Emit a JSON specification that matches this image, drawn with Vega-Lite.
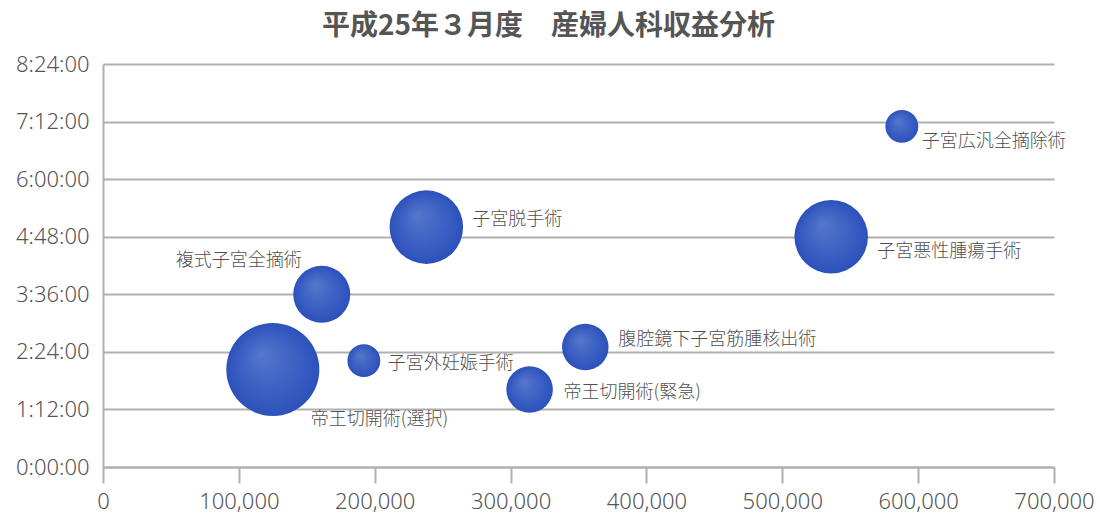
{
  "$schema": "https://vega.github.io/schema/vega-lite/v6.json",
  "autosize": {"type": "none"},
  "width": 951,
  "height": 403,
  "padding": {"left": 103, "top": 64, "right": 46, "bottom": 52},
  "background": "white",
  "title": {
    "text": "平成25年３月度　産婦人科収益分析",
    "font": "Noto Sans CJK JP",
    "fontSize": 28,
    "fontWeight": "bold",
    "color": "#555555",
    "anchor": "middle",
    "dx": -30,
    "baseline": "alphabetic",
    "offset": -10
  },
  "config": {"view": {"stroke": null}},
  "data": {
    "values": [
      {"name": "子宮広汎全摘除術", "revenue": 588000, "minutes": 426, "count": 2},
      {"name": "子宮悪性腫瘍手術", "revenue": 536000, "minutes": 288, "count": 10},
      {"name": "子宮脱手術", "revenue": 238000, "minutes": 300, "count": 10},
      {"name": "複式子宮全摘術", "revenue": 161000, "minutes": 216, "count": 6},
      {"name": "帝王切開術(選択)", "revenue": 125000, "minutes": 122, "count": 16},
      {"name": "子宮外妊娠手術", "revenue": 192000, "minutes": 133, "count": 2},
      {"name": "腹腔鏡下子宮筋腫核出術", "revenue": 355000, "minutes": 150, "count": 4},
      {"name": "帝王切開術(緊急)", "revenue": 314000, "minutes": 97, "count": 4}
    ]
  },
  "encoding": {
    "x": {
      "field": "revenue",
      "type": "quantitative",
      "scale": {"domain": [0, 700000], "nice": false, "zero": true},
      "axis": {
        "title": null,
        "values": [0, 100000, 200000, 300000, 400000, 500000, 600000, 700000],
        "format": ",d",
        "grid": false,
        "domainColor": "#b0b0b0",
        "domainWidth": 2,
        "tickColor": "#b0b0b0",
        "tickWidth": 2,
        "tickSize": 16,
        "labelFont": "Noto Sans",
        "labelFontSize": 22,
        "labelFontWeight": 300,
        "labelColor": "#555555",
        "labelPadding": 8,
        "labelFlush": false,
        "labelOverlap": false
      }
    },
    "y": {
      "field": "minutes",
      "type": "quantitative",
      "scale": {"domain": [0, 504], "nice": false, "zero": true},
      "axis": {
        "title": null,
        "values": [0, 72, 144, 216, 288, 360, 432, 504],
        "labelExpr": "floor(datum.value / 60) + ':' + (datum.value % 60 < 10 ? '0' : '') + (datum.value % 60) + ':00'",
        "grid": true,
        "gridColor": "#b0b0b0",
        "gridWidth": 2,
        "ticks": false,
        "domainColor": "#b0b0b0",
        "domainWidth": 2,
        "labelFont": "Noto Sans",
        "labelFontSize": 22,
        "labelFontWeight": 300,
        "labelColor": "#555555",
        "labelPadding": 14,
        "labelFlush": false,
        "labelOverlap": false
      }
    }
  },
  "layer": [
    {
      "mark": {
        "type": "circle",
        "opacity": 1,
        "fill": {
          "gradient": "radial",
          "x1": 0.38, "y1": 0.33, "r1": 0,
          "x2": 0.5, "y2": 0.5, "r2": 0.5,
          "stops": [
            {"offset": 0, "color": "#5577cc"},
            {"offset": 0.6, "color": "#3c60c3"},
            {"offset": 1, "color": "#2c51bb"}
          ]
        }
      },
      "encoding": {
        "size": {
          "field": "count",
          "type": "quantitative",
          "scale": {"type": "linear", "domain": [0, 16], "range": [0, 8660], "zero": true},
          "legend": null
        }
      }
    },
    {
      "transform": [{"filter": "datum.name == '子宮広汎全摘除術'"}],
      "mark": {"type": "text", "align": "left", "baseline": "middle", "dx": 20, "dy": 16, "font": "Noto Sans CJK JP", "fontWeight": 300, "fontSize": 18, "fill": "#505050"},
      "encoding": {"text": {"field": "name"}}
    },
    {
      "transform": [{"filter": "datum.name == '子宮悪性腫瘍手術'"}],
      "mark": {"type": "text", "align": "left", "baseline": "middle", "dx": 46, "dy": 15, "font": "Noto Sans CJK JP", "fontWeight": 300, "fontSize": 18, "fill": "#505050"},
      "encoding": {"text": {"field": "name"}}
    },
    {
      "transform": [{"filter": "datum.name == '子宮脱手術'"}],
      "mark": {"type": "text", "align": "left", "baseline": "middle", "dx": 46, "dy": -7, "font": "Noto Sans CJK JP", "fontWeight": 300, "fontSize": 18, "fill": "#505050"},
      "encoding": {"text": {"field": "name"}}
    },
    {
      "transform": [{"filter": "datum.name == '複式子宮全摘術'"}],
      "mark": {"type": "text", "align": "right", "baseline": "middle", "dx": -20, "dy": -33, "font": "Noto Sans CJK JP", "fontWeight": 300, "fontSize": 18, "fill": "#505050"},
      "encoding": {"text": {"field": "name"}}
    },
    {
      "transform": [{"filter": "datum.name == '帝王切開術(選択)'"}],
      "mark": {"type": "text", "align": "left", "baseline": "middle", "dx": 38, "dy": 51, "font": "Noto Sans CJK JP", "fontWeight": 300, "fontSize": 18, "fill": "#505050"},
      "encoding": {"text": {"field": "name"}}
    },
    {
      "transform": [{"filter": "datum.name == '子宮外妊娠手術'"}],
      "mark": {"type": "text", "align": "left", "baseline": "middle", "dx": 24, "dy": 3, "font": "Noto Sans CJK JP", "fontWeight": 300, "fontSize": 18, "fill": "#505050"},
      "encoding": {"text": {"field": "name"}}
    },
    {
      "transform": [{"filter": "datum.name == '腹腔鏡下子宮筋腫核出術'"}],
      "mark": {"type": "text", "align": "left", "baseline": "middle", "dx": 33, "dy": -7, "font": "Noto Sans CJK JP", "fontWeight": 300, "fontSize": 18, "fill": "#505050"},
      "encoding": {"text": {"field": "name"}}
    },
    {
      "transform": [{"filter": "datum.name == '帝王切開術(緊急)'"}],
      "mark": {"type": "text", "align": "left", "baseline": "middle", "dx": 34, "dy": 4, "font": "Noto Sans CJK JP", "fontWeight": 300, "fontSize": 18, "fill": "#505050"},
      "encoding": {"text": {"field": "name"}}
    }
  ]
}
